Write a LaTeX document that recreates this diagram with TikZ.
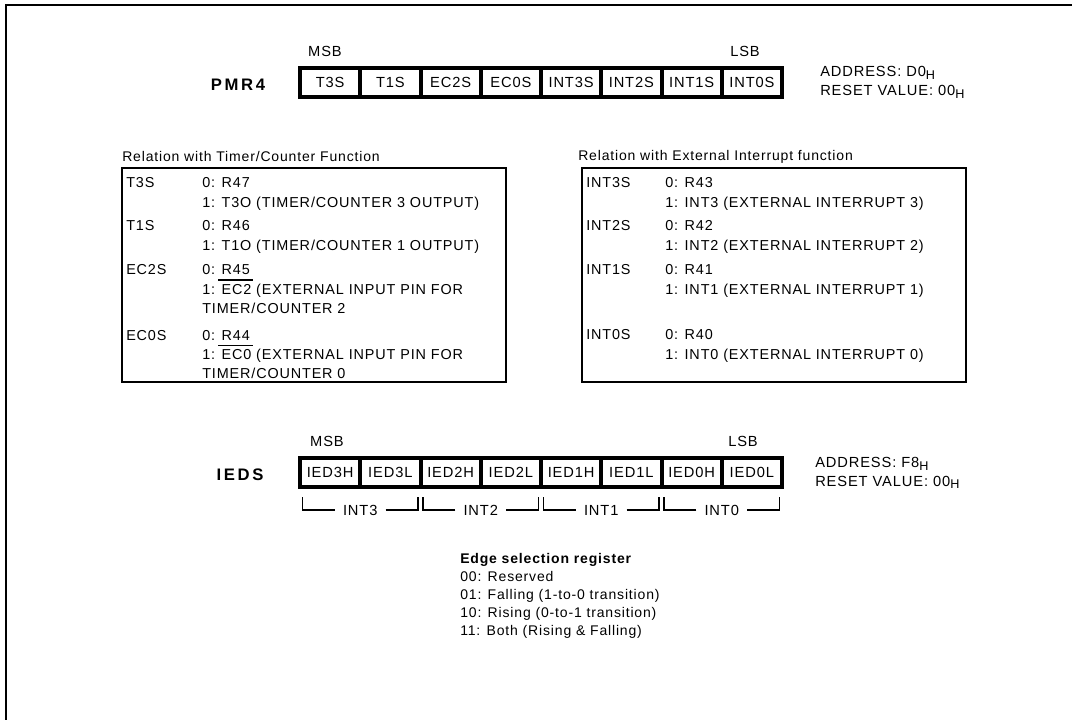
\documentclass[tikz,border=0pt]{standalone}
\usepackage{fontspec}
\setmainfont{Liberation Sans}[LetterSpace=6]
\begin{document}
\begin{tikzpicture}[x=0.75pt,y=-0.75pt,
  every node/.style={font=\fontsize{10.8}{12}\selectfont, inner sep=0pt},
  big/.style={font=\fontsize{11}{13}\selectfont},
  cell/.style={draw, line width=3pt, minimum width=45.19pt, minimum height=21.75pt, anchor=center, big},
  regname/.style={font=\fontsize{12.5}{14}\selectfont\bfseries\addfontfeature{LetterSpace=16}, anchor=base},
  txt/.style={anchor=base west},
  ctxt/.style={anchor=base},
  descbox/.style={draw, line width=1.5pt, minimum width=288pt, minimum height=160.5pt},
  frame/.style={line width=1.5pt},
  brk/.style={line width=1pt},
  brklbl/.style={inner xsep=6pt, big},
  ttl/.style={anchor=base west, font=\fontsize{10.5}{12}\selectfont}]
\newcommand{\subH}{\raisebox{-0.35ex}{\fontsize{9.5}{11}\selectfont H}}
\useasboundingbox (0,0) rectangle (1072,720);
% outer frame
\coordinate (fbl) at (6,720);
\coordinate (ftl) at (6,5);
\coordinate (ftr) at (1072,5);
\draw[frame] (fbl) -- (ftl) -- (ftr);

% ---------- PMR4 ----------
\node[regname] (pmr) at (238,90.5) {PMR4};
\node[ctxt, big] (pmsb) at (325,57) {MSB};
\node[ctxt, big] (plsb) at (745,57) {LSB};
\foreach \t [count=\i] in {T3S,T1S,EC2S,EC0S,INT3S,INT2S,INT1S,INT0S}
  \node[cell] (p\i) at ({300+60.25*(\i-0.5)},82.5) {\t};
\node[txt, big] (padr) at (820,77) {ADDRESS: D0\subH};
\node[txt, big] (prst) at (820,96) {RESET VALUE: 00\subH};

% ---------- Timer/Counter box ----------
\node[ttl] (ltitle) at (122,161.5) {Relation with Timer/Counter Function};
\node[descbox] (lbox) at (314,275) {};
\node[txt] (l1) at (126,188) {T3S};
\node[txt] (l1a) at (202,188) {0: R47};
\node[txt] (l1b) at (202,208) {1: T3O (TIMER/COUNTER 3 OUTPUT)};
\node[txt] (l2) at (126,231) {T1S};
\node[txt] (l2a) at (202,231) {0: R46};
\node[txt] (l2b) at (202,251) {1: T1O (TIMER/COUNTER 1 OUTPUT)};
\node[txt] (l3) at (126,275) {EC2S};
\node[txt] (l3a) at (202,275) {0: R45};
\node[txt] (l3b) at (202,295) {1: EC2 (EXTERNAL INPUT PIN FOR};
\node[txt] (l3c) at (202,314) {TIMER/COUNTER 2};
\node[txt] (l4) at (126,341) {EC0S};
\node[txt] (l4a) at (202,341) {0: R44};
\node[txt] (l4b) at (202,360) {1: EC0 (EXTERNAL INPUT PIN FOR};
\node[txt] (l4c) at (202,379) {TIMER/COUNTER 0};
\draw[brk] (218,280) -- (253,280);
\draw[brk] (218,345.5) -- (253,345.5);

% ---------- External interrupt box ----------
\node[ttl] (rtitle) at (578,161) {Relation with External Interrupt function};
\node[descbox] (rbox) at (774,275) {};
\node[txt] (r1) at (586,188) {INT3S};
\node[txt] (r1a) at (665,188) {0: R43};
\node[txt] (r1b) at (665,208) {1: INT3 (EXTERNAL INTERRUPT 3)};
\node[txt] (r2) at (586,231) {INT2S};
\node[txt] (r2a) at (665,231) {0: R42};
\node[txt] (r2b) at (665,251) {1: INT2 (EXTERNAL INTERRUPT 2)};
\node[txt] (r3) at (586,275) {INT1S};
\node[txt] (r3a) at (665,275) {0: R41};
\node[txt] (r3b) at (665,295) {1: INT1 (EXTERNAL INTERRUPT 1)};
\node[txt] (r4) at (586,340) {INT0S};
\node[txt] (r4a) at (665,340) {0: R40};
\node[txt] (r4b) at (665,360) {1: INT0 (EXTERNAL INTERRUPT 0)};

% ---------- IEDS ----------
\node[regname] (ieds) at (240,480.5) {IEDS};
\node[ctxt, big] (imsb) at (327,447) {MSB};
\node[ctxt, big] (ilsb) at (743,447) {LSB};
\foreach \t [count=\i] in {IED3H,IED3L,IED2H,IED2L,IED1H,IED1L,IED0H,IED0L}
  \node[cell] (q\i) at ({300+60.25*(\i-0.5)},472.5) {\t};
\node[txt, big] (iadr) at (815,468) {ADDRESS: F8\subH};
\node[txt, big] (irst) at (815,486) {RESET VALUE: 00\subH};

% brackets
\foreach \n [count=\k from 0] in {INT3,INT2,INT1,INT0} {
  \node[brklbl] (b\k) at ({300+120.5*\k+60.25},510) {\n};
  \coordinate (bl\k) at ({300+120.5*\k+2.5},497);
  \coordinate (br\k) at ({300+120.5*(\k+1)-2.5},497);
  \draw[brk] (b\k.west) -| (bl\k);
  \draw[brk] (b\k.east) -| (br\k);
}

% ---------- Edge selection ----------
\node[txt, font=\fontsize{10.5}{12}\selectfont\bfseries] (e0) at (460,563) {Edge selection register};
\node[ttl] (e1) at (460,581) {00: Reserved};
\node[ttl] (e2) at (460,599) {01: Falling (1-to-0 transition)};
\node[ttl] (e3) at (460,617) {10: Rising (0-to-1 transition)};
\node[ttl] (e4) at (460,635) {11: Both (Rising \& Falling)};
\end{tikzpicture}
\end{document}
